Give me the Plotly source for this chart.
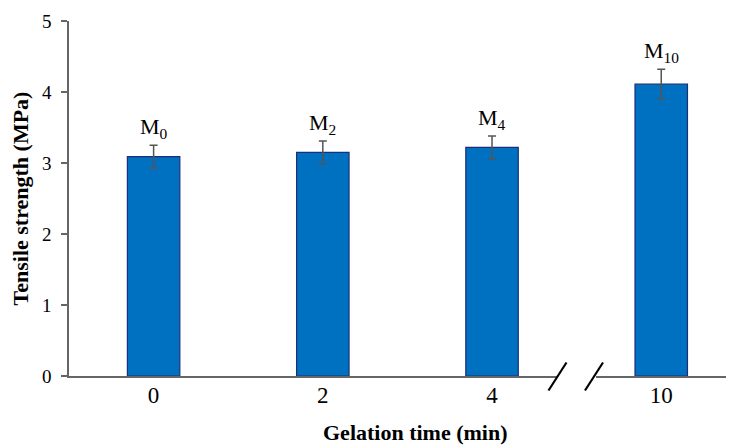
import plotly.graph_objects as go

categories = ["0", "2", "4", "10"]
strength = [3.09, 3.15, 3.22, 4.11]
errors = [0.16, 0.16, 0.16, 0.21]
labels = ["M<sub>0</sub>", "M<sub>2</sub>", "M<sub>4</sub>", "M<sub>10</sub>"]
y_ticks = [0, 1, 2, 3, 4, 5]

FONT = "Liberation Serif"
xpos = list(range(len(categories)))

fig = go.Figure()
fig.add_trace(go.Bar(
    x=xpos, y=strength, width=0.31,
    marker=dict(color="#0070C0", line=dict(color="#1B2F78", width=1.2)),
    error_y=dict(type="data", array=errors, visible=True, color="#555555",
                 thickness=1.5, width=4),
    showlegend=False,
))

for xi, v, e, lab in zip(xpos, strength, errors, labels):
    fig.add_annotation(x=xi, y=v + e, text=lab, showarrow=False,
                       yanchor="bottom", yshift=1,
                       font=dict(family=FONT, size=22, color="black"))

# page has an 8px body margin; compensate so the plot area lands where the reference has it
OFF = 8
W, H = 734 - OFF, 445 - OFF
ml, mr, mt, mb = 69 - OFF, 0, 21 - OFF, 69
pw = W - ml - mr
ph = H - mt - mb

def px(xp):
    return (xp - OFF - ml) / pw

def py(yp):
    return (H - mb - (yp - OFF)) / ph

# x-axis title placed as annotation (reference has it slightly right of centre)
fig.add_annotation(xref="paper", yref="paper", x=px(415), y=py(432),
                   xanchor="center", yanchor="middle", showarrow=False,
                   text="<b>Gelation time (min)</b>",
                   font=dict(family=FONT, size=22, color="black"))

shapes = []
# gap in x-axis line
shapes.append(dict(type="line", xref="paper", yref="paper",
                   x0=px(558), x1=px(596), y0=py(376.5), y1=py(376.5),
                   line=dict(color="white", width=4), layer="above"))
# break slashes
for x0, x1 in [(548.5, 566.5), (585, 603)]:
    shapes.append(dict(type="line", xref="paper", yref="paper",
                       x0=px(x0), x1=px(x1), y0=py(390.5), y1=py(362.5),
                       line=dict(color="black", width=2.2), layer="above"))

fig.update_layout(
    width=W, height=H,
    margin=dict(l=ml, r=mr, t=mt, b=mb, pad=0),
    plot_bgcolor="white", paper_bgcolor="white",
    font=dict(family=FONT, color="black"),
    shapes=shapes,
    xaxis=dict(
        range=[-0.5, 3.43], tickmode="array", tickvals=xpos, ticktext=categories,
        showline=True, linecolor="#666666", linewidth=1.5, showgrid=False,
        zeroline=False, ticks="", ticklabelstandoff=-2,
        tickfont=dict(family=FONT, size=23, color="black"),
        automargin=False,
    ),
    yaxis=dict(
        range=[0, 5], tickmode="array", tickvals=y_ticks,
        showline=True, linecolor="#666666", linewidth=1.5, showgrid=False,
        zeroline=False, ticks="outside", ticklen=6, tickcolor="#666666", tickwidth=1.5,
        ticklabelstandoff=6,
        tickfont=dict(family=FONT, size=19, color="black"),
        title=dict(text="<b>Tensile strength (MPa)</b>", standoff=10,
                   font=dict(family=FONT, size=22, color="black")),
        automargin=False,
    ),
)

fig.write_html("out.html")
